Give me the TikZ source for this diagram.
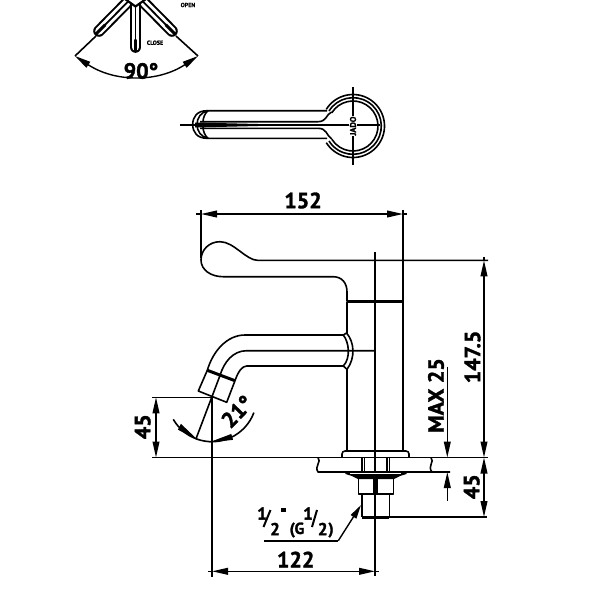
\documentclass[tikz,border=0pt]{standalone}
\usepackage{fontspec}
\setmainfont[BoldFeatures={FakeBold=1.6}]{PT Sans}
\usetikzlibrary{arrows.meta}
\tikzset{
  thin line/.style={line width=0.6pt,black},
  part/.style={line width=0.8pt,black,line join=round},
  heavy/.style={line width=1.5pt,black},
  dim/.style={line width=0.7pt,black,{Triangle[length=8pt,width=3.4pt]}-{Triangle[length=8pt,width=3.4pt]}},
  dimend/.style={line width=0.7pt,black,-{Triangle[length=8pt,width=3.4pt]}},
  lab/.style={inner sep=0pt,font=\bfseries\fontsize{11}{12}\selectfont},
  small/.style={inner sep=0pt,font=\bfseries\fontsize{8.6}{9}\selectfont},
  paren/.style={inner sep=0pt,font=\bfseries\fontsize{8}{9}\selectfont},
  tiny lab/.style={inner sep=0pt,font=\bfseries\fontsize{3}{3}\selectfont},
}
\begin{document}
\begin{tikzpicture}[x=0.5pt,y=-0.5pt]
\useasboundingbox (0,0) rectangle (600,600);
\fill[white] (0,0) rectangle (600,600);

% ---------- rotation sketch ----------
\foreach \ax/\ay/\bx/\by in {135.5/-6/99/31, 135.5/-6/172/31, 135.5/-6/135.5/47}{
  \draw[black,line width=5.8pt,line cap=round] (\ax,\ay) -- (\bx,\by);
  \draw[white,line width=3.8pt,line cap=round] (\ax,\ay) -- (\bx,\by);
  \draw[black,line width=0.9pt] (\ax,\ay) -- (\bx,\by);
}
\draw[black,line width=1.5pt,line cap=round] (135.5,40) -- (135.5,51);
\draw[black,line width=1.5pt,line cap=round] (105,25) -- (96,34);
\draw[black,line width=1.5pt,line cap=round] (166,25) -- (175,34);
\fill[white] (118,-8) -- (135.5,6) -- (153,-8) -- cycle;
\draw[line width=1.1pt,black,line join=miter] (125,-1) -- (135.5,6.5) -- (146,-1);
\coordinate (al) at (75,56);
\coordinate (ar) at (198,56);
\draw[part] (96,36) -- (al);
\draw[part] (176,36) -- (ar);
\draw[dim] (al) to[bend right=33.5] (ar);
\node[lab] (t90) at (141,71) {90°};
\node[tiny lab] (tclose) at (155,42.7) {CLOSE};
\node[tiny lab] (topen) at (188,5) {OPEN};

% ---------- plan view ----------
\draw[thin line] (180,125) -- (380,125);
\draw[thin line] (353,87) -- (353,165);
\draw[part] (353,126) ++(-148:31.5) arc (-148:148:31.5);
\draw[part] (353,126) ++(-148:28.3) arc (-148:148:28.3);
\draw[part] (353,126) ++(-148:25) arc (-148:148:25);
\draw[part] (327,110.7) -- (207,110.7) .. controls (197,110.7) and (192.7,117) .. (192.7,124.5)
  .. controls (192.7,132) and (197,138.3) .. (207,138.3) -- (327,138.3);
\draw[part] (208,110.7) .. controls (201,112) and (197,118) .. (197,124.5) .. controls (197,131) and (201,137) .. (208,138.3);
\draw[part] (208,110.7) .. controls (205,113) and (203,118) .. (203,122);
\draw[part] (208,138.3) .. controls (205,136) and (203,131) .. (203,127);
\draw[part] (200,121.7) -- (318,121.7) .. controls (327,121.7) and (326,114) .. (331.7,112);
\draw[part] (200,128.3) -- (318,128.3) .. controls (327,128.3) and (326,135) .. (331.7,139);
\fill[black] (195,122.5) -- (195,127.5) -- (300,125) -- cycle;
\node[tiny lab,rotate=90,fill=white,inner sep=0.3pt] (tjado) at (353,126) {\fontsize{4.2}{4}\selectfont JADO};

% ---------- lever and body ----------
\draw[part] (488,260.4) -- (258,260.4) .. controls (246,260.4) and (234,241.7) .. (220,241.7)
  .. controls (209,241.7) and (201,250) .. (201,260)
  .. controls (201,270) and (211,276.7) .. (223,276.7)
  -- (333,276.7) .. controls (342,276.7) and (347,283) .. (347,292) -- (347,301.7);
\draw[heavy] (347,301.7) -- (403,301.7);
\draw[part] (347,301.7) -- (347,334);
\draw[part] (347,369) -- (347,451);
\draw[part] (403,301.7) -- (403,451);
\coordinate (axtop) at (375,252);
\coordinate (axbot) at (375,576);
\draw[part] (axtop) -- (axbot);

% ---------- spout ----------
\draw[part] (343.3,335) -- (245,335) .. controls (227,335) and (213,351) .. (207.3,370.3);
\draw[part] (375,350.7) -- (246.7,350.7) .. controls (233,350.7) and (224,362) .. (220,375.5);
\draw[part] (343.3,366) -- (246.7,366) .. controls (242,366) and (238,372) .. (235,380.7);
\draw[heavy] (207.3,370.3) -- (235,380.7);
\draw[part] (207.3,370.3) -- (198.3,391) -- (226.7,402.3) -- (235,380.7);
\draw[part] (220,375.5) -- (196,438.8);
\draw[part] (343.3,335) .. controls (349,342) and (351,358) .. (343.3,366);
\draw[part] (346.5,333) .. controls (354.5,342) and (355.5,358) .. (347,369.3);
\draw[part] (343.3,335) -- (346.5,333) (343.3,366) -- (347,369.3);

% ---------- angle 21 ----------
\coordinate (ac) at (212,397);
\draw[part] (ac) ++(20.5:44.7) arc (20.5:150:44.7);
\draw[black,fill=black] (212,441.7) -- (231,434.5) -- (232.5,439.5) -- cycle;
\draw[black,fill=black] (196,438.8) -- (178.5,429.5) -- (181,424.5) -- cycle;
\node[lab,rotate=46] (t21) at (237,411.5) {21°};

% ---------- base ----------
\draw[part,rounded corners=1.5pt] (342,457.5) -- (342,451) -- (409,451) -- (409,457.5);
\draw[part] (152,457.5) -- (488,457.5);
\draw[part] (318,457.5) .. controls (322,462) and (314,466) .. (318,472) -- (450,472);
\draw[part] (431,457.5) .. controls (435,462) and (427,466) .. (432,472);
\draw[part] (361.7,457.5) -- (361.7,472) (389.3,457.5) -- (389.3,472);
\draw[part] (364.3,457.5) -- (364.3,472) (386.7,457.5) -- (386.7,472);
\fill[black] (345,471.6) -- (407,471.6) -- (406.5,474) -- (400,476) -- (394,479) -- (358,479) -- (352,476) -- (345.5,474) -- cycle;
\fill[white] (350,473) rectangle (401,474.4);
\fill[white] (373.7,474) rectangle (377,479.5);
\draw[part] (358.3,479) -- (358.3,494) -- (393.3,494) -- (393.3,479);
\draw[part] (373.7,474) -- (373.7,494) (377,474) -- (377,494);
\draw[part] (362,494) -- (362,517) (389.3,494) -- (389.3,517);
\draw[heavy] (362,517) -- (389.3,517);
\draw[part] (389.3,517) -- (487,517);
\draw[part] (375,474) -- (375,576);

% ---------- dimensions ----------
\coordinate (d152l) at (201,214);
\coordinate (d152r) at (403,214);
\draw[part] (201,210) -- (201,258);
\draw[part] (403,210) -- (403,302);
\draw[part] (196,214) -- (201,214) (403,214) -- (407,214);
\draw[dim] (d152l) -- (d152r);
\node[lab] (t152) at (303,200.5) {152};

\coordinate (d147t) at (484,260.4);
\coordinate (d147b) at (484,457.5);
\draw[dim] (d147t) -- (d147b);
\draw[part] (484,256.5) -- (484,260.4);
\node[lab,rotate=90] (t147) at (472.5,357) {147.5};

\coordinate (d45t) at (484,457.5);
\coordinate (d45b) at (484,517);
\draw[dim] (d45t) -- (d45b);
\node[lab,rotate=90] (t45b) at (471.7,486.7) {45};

\coordinate (mtop) at (447.3,366.7);
\coordinate (mup) at (447.3,457.5);
\coordinate (mbot) at (447.3,500.7);
\coordinate (mlow) at (447.3,472);
\draw[dimend] (mtop) -- (mup);
\draw[dimend] (mbot) -- (mlow);
\node[lab,rotate=90] (tmax) at (436,395.5) {MAX 25};

\draw[part] (152,397.3) -- (212,397.3);
\coordinate (d45lt) at (156,397.3);
\coordinate (d45lb) at (156,457.5);
\draw[dim] (d45lt) -- (d45lb);
\node[lab,rotate=90] (t45l) at (142.7,426.7) {45};

\coordinate (cxt) at (212,397);
\coordinate (cxb) at (212,577);
\draw[part] (cxt) -- (cxb);
\coordinate (d122l) at (212,571.3);
\coordinate (d122r) at (375,571.3);
\draw[part] (208,571.3) -- (212,571.3) (375,571.3) -- (379,571.3);
\draw[dim] (d122l) -- (d122r);
\node[lab] (t122) at (295.7,559.5) {122};

% ---------- thread callout ----------
\coordinate (l1) at (264,540.7);
\coordinate (l2) at (338.3,540.7);
\coordinate (l3) at (361,505);
\draw[part] (l1) -- (l2);
\draw[line width=0.7pt,-{Triangle[length=7pt,width=3.2pt]}] (l2) -- (l3);
\node[small] (n1a) at (262,513.5) {1};
\node[small] (n2a) at (275,529) {2};
\draw[line width=1pt] (263.5,527) -- (270.5,510);
\fill[black] (281,507.5) rectangle (285.5,512);
\node[paren] (tg) at (297,530) {(G};
\node[small] (n1b) at (308,513.5) {1};
\node[small] (n2b) at (322.7,529) {2};
\draw[line width=1pt] (312,527) -- (317,510);
\node[paren] (tp) at (331,530) {)};
\end{tikzpicture}
\end{document}
